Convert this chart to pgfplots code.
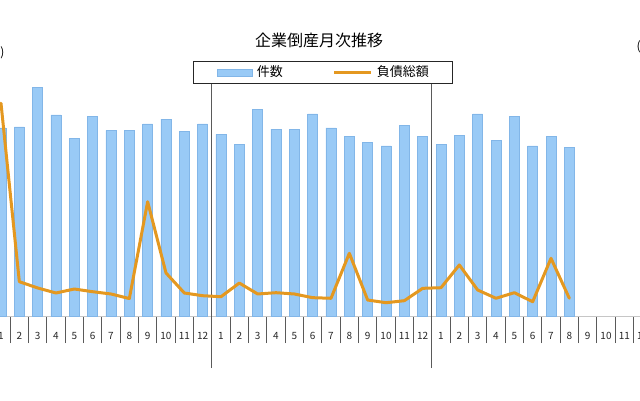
\documentclass[border=0pt]{standalone}
\usepackage{pgfplots}
\pgfplotsset{compat=1.18}
\usepackage{fontspec}
\setmainfont{Noto Sans CJK JP}
\definecolor{barblue}{RGB}{153,202,246}
\definecolor{baredge}{RGB}{130,182,232}
\definecolor{debtorange}{RGB}{228,152,32}
\definecolor{sepgray}{RGB}{90,90,90}

% month index 0 = Jan 2010; 件数 (count) and 負債総額 (100 million yen)
\pgfplotstableread{
m  cnt   debt
0  1070  17300
1  1077  2790
2  1299  2280
3  1144  1870
4  1013  2195
5  1137  1975
6  1057  1790
7  1057  1420
8  1093  9290
9  1121  3500
10 1049  1870
11 1093  1650
12 1034  1570
13 975   2680
14 1174  1790
15 1064  1895
16 1064  1790
17 1151  1490
18 1070  1440
19 1021  5100
20 990   1300
21 968   1080
22 1085  1245
23 1021  2250
24 975   2300
25 1026  4150
26 1150  2115
27 998   1440
28 1137  1895
29 968   1160
30 1021  4690
31 960   1440
}\monthly

\begin{document}
\begin{tikzpicture}[x=1pt,y=1pt]
\useasboundingbox (0,0) rectangle (640,400);
\clip (0,0) rectangle (640,400);

\pgfplotsset{
  chartbox/.style={
    scale only axis,
    width=660pt, height=246pt,
    at={(-8.17pt,84pt)}, anchor=south west,
    xmin=-0.5, xmax=35.5,
  },
}

\begin{axis}[
  chartbox,
  ymin=0, ymax=1400,
  hide y axis,
  axis x line*=bottom,
  x axis line style={gray!45, line width=0.6pt, -},
  xtick={0,...,35},
  xticklabels={1,2,3,4,5,6,7,8,9,10,11,12,1,2,3,4,5,6,7,8,9,10,11,12,1,2,3,4,5,6,7,8,9,10,11,12},
  major tick length=0pt,
  minor xtick={-0.5,0.5,...,35.5},
  minor tick length=27pt,
  tick align=outside,
  minor x tick style={sepgray, line width=0.7pt},
  x tick label style={anchor=center, yshift=-20pt, font=\fontsize{10}{10}\selectfont, text=black!85},
  extra x ticks={11.5,23.5},
  extra x tick labels={},
  extra x tick style={grid=major, major grid style={sepgray, line width=0.8pt},
    major tick length=52pt, tick style={sepgray, line width=0.8pt}},
  legend columns=2,
  legend style={at={(0.3048,1.0366)}, anchor=north west,
    draw=black!85, line width=0.9pt, fill=white,
    inner xsep=24pt, inner ysep=5pt,
    font=\fontsize{13}{13}\selectfont,
    nodes={inner sep=0pt, text height=10pt, text depth=2pt},
    /tikz/every odd column/.append style={column sep=4pt},
    /tikz/every even column/.append style={column sep=50pt}},
]
\addplot[ybar, bar width=10pt, fill=barblue, draw=baredge, line width=0.5pt,
  legend image code/.code={\draw[fill=barblue, draw=baredge, line width=0.5pt] (0pt,-3.5pt) rectangle (35pt,3.5pt);}]
  table[x=m, y=cnt] {\monthly};
\addlegendentry{件数}
\addlegendimage{debtorange, line width=3pt,
  legend image code/.code={\draw[debtorange, line width=3pt] (0pt,0pt) -- (37pt,0pt);}}
\addlegendentry{負債総額}

\node[font=\fontsize{11}{11}\selectfont] at (axis cs:5.5,0) [yshift=-46pt] {2010年};
\node[font=\fontsize{11}{11}\selectfont] at (axis cs:17.5,0) [yshift=-46pt] {2011年};
\node[font=\fontsize{11}{11}\selectfont] at (axis cs:29.5,0) [yshift=-46pt] {2012年};
\end{axis}

\begin{axis}[
  chartbox,
  ymin=0, ymax=20000,
  axis lines=none,
]
\addplot[debtorange, line width=3pt, line join=round, line cap=round]
  table[x=m, y=debt] {\monthly};
\end{axis}

\node[font=\fontsize{16}{16}\selectfont] at (319,360) {企業倒産月次推移};
\node[font=\fontsize{12}{12}\selectfont, anchor=east] at (8,347) {(件)};
\node[font=\fontsize{12}{12}\selectfont, anchor=west] at (633,353) {(億円)};
\end{tikzpicture}
\end{document}
